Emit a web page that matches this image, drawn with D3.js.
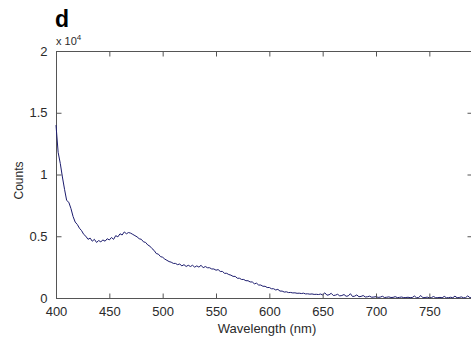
<!DOCTYPE html>
<html>
<head>
<meta charset="utf-8">
<script src="https://cdn.jsdelivr.net/npm/d3@7"></script>
<style>
  html, body { margin: 0; padding: 0; background: #fff; overflow: hidden; }
  svg { display: block; font-family: "Liberation Sans", Arial, sans-serif; }
</style>
</head>
<body>
<svg id="chart" width="471" height="343"></svg>
<script>
// ---- data ----
const panelLabel = "d";
const xLabel = "Wavelength (nm)";
const yLabel = "Counts";
const xTicks = [400, 450, 500, 550, 600, 650, 700, 750];
const yTicks = [0, 5000, 10000, 15000, 20000];
const yTickLabels = ["0", "0.5", "1", "1.5", "2"];

const wavelengths = [
  400,402,404,406,408,410,412,414,416,418,420,422,424,426,428,430,432,434,436,438,
  440,442,444,446,448,450,452,454,456,458,460,462,464,466,468,470,472,474,476,478,
  480,482,484,486,488,490,492,494,496,498,500,502,504,506,508,510,512,514,516,518,
  520,522,524,526,528,530,532,534,536,538,540,542,544,546,548,550,552,554,556,558,
  560,562,564,566,568,570,572,574,576,578,580,582,584,586,588,590,592,594,596,598,
  600,602,604,606,608,610,612,614,616,618,620,622,624,626,628,630,632,634,636,638,
  640,642,644,646,648,650,652,654,656,658,660,662,664,666,668,670,672,674,676,678,
  680,682,684,686,688,690,692,694,696,698,700,702,704,706,708,710,712,714,716,718,
  720,722,724,726,728,730,732,734,736,738,740,742,744,746,748,750,752,754,756,758,
  760,762,764,766,768,770,772,774,776,778,780,782,784,786,788,790
];
const counts = [
  14000,11800,10900,9800,8800,7900,7750,7250,6600,6150,5950,5650,5450,5150,5000,4750,4850,4600,4750,4500,
  4650,4550,4700,4600,4800,4700,4900,4750,5050,4950,5200,5100,5350,5200,5300,5250,5150,5050,4950,4800,
  4750,4550,4500,4300,4200,4000,3850,3600,3550,3350,3300,3150,3050,2950,2900,2800,2800,2700,2750,2600,
  2700,2550,2650,2550,2650,2500,2600,2500,2650,2450,2550,2450,2450,2350,2350,2250,2300,2150,2150,2000,
  2000,1900,1850,1750,1750,1600,1600,1500,1500,1400,1400,1300,1300,1150,1200,1050,1050,950,950,850,
  850,750,750,650,700,560,560,480,500,440,450,410,420,380,390,360,390,330,340,310,
  330,290,300,280,320,250,420,230,260,380,200,230,300,170,200,280,140,170,350,120,
  150,250,100,130,200,80,100,150,60,80,110,50,70,140,40,60,90,40,50,110,
  30,50,80,30,40,60,30,40,160,20,40,200,20,40,70,20,40,120,20,30,
  50,20,130,20,30,60,20,150,20,40,90,20,30,170,30,20
];

// ---- layout ----
const margin = { left: 56, top: 51, right: 472, bottom: 298 };
const svg = d3.select("#chart");

const x = d3.scaleLinear().domain([400, 790]).range([margin.left, margin.right]);
const y = d3.scaleLinear().domain([0, 20000]).range([margin.bottom, margin.top]);

const axisColor = "#555";
const textColor = "#2a2a2a";
const tickLen = 5;

// box
svg.append("rect")
  .attr("x", margin.left + 0.5).attr("y", margin.top + 0.5)
  .attr("width", margin.right - margin.left).attr("height", margin.bottom - margin.top)
  .attr("fill", "none").attr("stroke", axisColor).attr("stroke-width", 1);

// data line
const line = d3.line()
  .x((d, i) => x(wavelengths[i]))
  .y(d => y(d));
svg.append("path")
  .datum(counts)
  .attr("d", line)
  .attr("fill", "none")
  .attr("stroke", "#1c1c6e")
  .attr("stroke-width", 1)
  .attr("stroke-linejoin", "round");

// axes (inward ticks)
const fmtX = d3.format("d");
const bottomAxis = d3.axisBottom(x).tickValues(xTicks).tickSizeInner(-tickLen).tickSizeOuter(0).tickPadding(8).tickFormat(fmtX);
const topAxis = d3.axisTop(x).tickValues(xTicks).tickSizeInner(-tickLen).tickSizeOuter(0).tickFormat("");
const leftAxis = d3.axisLeft(y).tickValues(yTicks).tickSizeInner(-tickLen).tickSizeOuter(0).tickPadding(9)
  .tickFormat((d, i) => yTickLabels[i]);
const rightAxis = d3.axisRight(y).tickValues(yTicks).tickSizeInner(-tickLen).tickSizeOuter(0).tickFormat("");

function styleAxis(g) {
  g.select(".domain").remove();
  g.selectAll(".tick line").attr("stroke", axisColor);
  g.selectAll(".tick text").attr("fill", textColor)
    .style("font-family", '"Liberation Sans", Arial, sans-serif').style("font-size", "13px");
}

svg.append("g").attr("transform", `translate(0,${margin.bottom + 0.5})`).call(bottomAxis).call(styleAxis);
svg.append("g").attr("transform", `translate(0,${margin.top + 0.5})`).call(topAxis).call(styleAxis);
svg.append("g").attr("transform", `translate(${margin.left + 0.5},0)`).call(leftAxis).call(styleAxis);
svg.append("g").attr("transform", `translate(${margin.right + 0.5},0)`).call(rightAxis).call(styleAxis);

// axis labels
svg.append("text")
  .attr("x", (margin.left + margin.right) / 2 + 3).attr("y", 333)
  .attr("text-anchor", "middle").attr("fill", textColor)
  .style("font-size", "13px").text(xLabel);

svg.append("text")
  .attr("transform", `translate(23,${(margin.top + margin.bottom) / 2 + 6}) rotate(-90)`)
  .attr("text-anchor", "middle").attr("fill", textColor)
  .style("font-size", "12px").text(yLabel);

// exponent label
const exp = svg.append("text").attr("x", 56).attr("y", 45).attr("fill", textColor).style("font-size", "11px");
exp.append("tspan").text("x 10");
exp.append("tspan").attr("dy", -5).style("font-size", "8px").text("4");

// panel letter
svg.append("text").attr("x", 55).attr("y", 27).attr("fill", "#000")
  .style("font-size", "23px").style("font-weight", "bold").text(panelLabel);
</script>
</body>
</html>
